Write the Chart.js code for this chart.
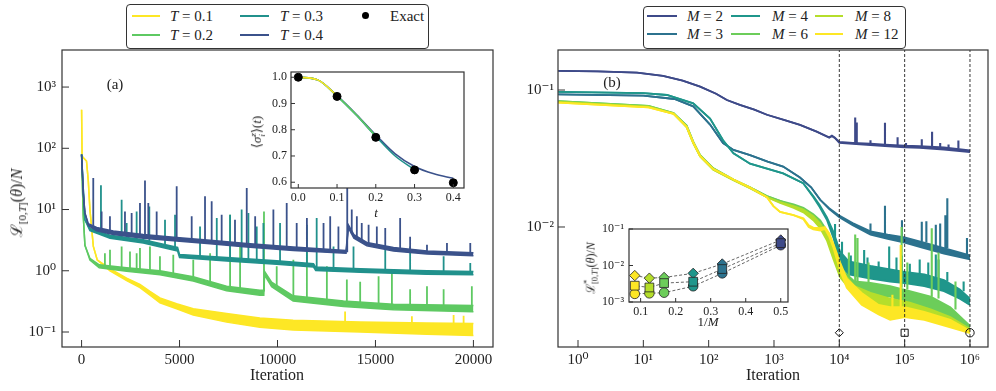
<!DOCTYPE html>
<html>
<head>
<meta charset="utf-8">
<script src="https://cdn.jsdelivr.net/npm/chart.js@4/dist/chart.umd.min.js"></script>
<style>
  body { margin: 0; background: #fff; width: 996px; height: 391px; position: relative; overflow: hidden;
         font-family: "Liberation Serif", "DejaVu Serif", serif; color: #222; }
  canvas { position: absolute; }
  .txt { position: absolute; white-space: nowrap; font-size: 15px; line-height: 1; }
  .rot { transform: translate(-50%, -50%) rotate(-90deg); }
  .ctr { transform: translate(-50%, -50%); }
  .legend { position: absolute; border: 1px solid #333; border-radius: 4px; background: #fff; }
  .sw { position: absolute; height: 2px; }
  .dot { position: absolute; width: 7px; height: 7px; border-radius: 50%; background: #000; }
  sub, sup { font-size: 70%; line-height: 0; }
  .ss { display: inline-flex; flex-direction: column; vertical-align: middle; line-height: 1; font-size: 70%; }
</style>
</head>
<body>
<canvas id="mainA" width="500" height="391" style="left:0;top:0"></canvas>
<canvas id="mainB" width="496" height="391" style="left:500px;top:0"></canvas>
<canvas id="insetA" width="230" height="160" style="left:240px;top:60px"></canvas>
<canvas id="insetB" width="215" height="120" style="left:580px;top:215px"></canvas>

<!-- legends -->
<div class="legend" style="left:126px;top:4px;width:301px;height:43px"></div>
<div class="sw" style="left:132px;top:15px;width:28px;background:#fde725"></div>
<div class="txt" style="left:170px;top:9px"><i>T</i> = 0.1</div>
<div class="sw" style="left:132px;top:34px;width:28px;background:#5ec962"></div>
<div class="txt" style="left:170px;top:28px"><i>T</i> = 0.2</div>
<div class="sw" style="left:240px;top:15px;width:29px;background:#21918c"></div>
<div class="txt" style="left:280px;top:9px"><i>T</i> = 0.3</div>
<div class="sw" style="left:240px;top:34px;width:29px;background:#3b528b"></div>
<div class="txt" style="left:280px;top:28px"><i>T</i> = 0.4</div>
<div class="dot" style="left:362px;top:12px"></div>
<div class="txt" style="left:390px;top:9px">Exact</div>

<div class="legend" style="left:643px;top:6px;width:261px;height:41px"></div>
<div class="sw" style="left:647px;top:15px;width:30px;background:#3e4a89"></div>
<div class="txt" style="left:687px;top:9px"><i>M</i> = 2</div>
<div class="sw" style="left:647px;top:33px;width:30px;background:#2c728e"></div>
<div class="txt" style="left:687px;top:27px"><i>M</i> = 3</div>
<div class="sw" style="left:731px;top:15px;width:29px;background:#1f968b"></div>
<div class="txt" style="left:772px;top:9px"><i>M</i> = 4</div>
<div class="sw" style="left:731px;top:33px;width:29px;background:#6ccd5a"></div>
<div class="txt" style="left:772px;top:27px"><i>M</i> = 6</div>
<div class="sw" style="left:815px;top:15px;width:28px;background:#b5de2b"></div>
<div class="txt" style="left:855px;top:9px"><i>M</i> = 8</div>
<div class="sw" style="left:815px;top:33px;width:28px;background:#fde725"></div>
<div class="txt" style="left:855px;top:27px"><i>M</i> = 12</div>

<!-- axis titles and panel tags -->
<div class="txt rot" style="left:17px;top:203px;font-size:16px">ℒ<sub>[0,<i>T</i>]</sub>(<i>θ</i>)/<i>N</i></div>
<div class="txt ctr" style="left:277px;top:375px;font-size:16px">Iteration</div>
<div class="txt ctr" style="left:773px;top:375px;font-size:16px">Iteration</div>
<div class="txt ctr" style="left:115px;top:84px">(a)</div>
<div class="txt ctr" style="left:612px;top:82px">(b)</div>
<div class="txt rot" style="left:258px;top:132px;font-size:13px">⟨<i>σ</i><span class="ss"><i>z</i><i>i</i></span>⟩(<i>t</i>)</div>
<div class="txt ctr" style="left:376px;top:212px;font-size:13px"><i>t</i></div>
<div class="txt rot" style="left:592px;top:268px;font-size:12px">ℒ<span class="ss"><span>*</span><span>[0,<i>T</i>]</span></span>(<i>θ</i>)/<i>N</i></div>
<div class="txt ctr" style="left:708px;top:321px;font-size:13px">1/<i>M</i></div>

<script>
// ---------- panel (a): loss vs iteration, rows are [iteration, band low, band high]
const lossT01 = [[0,427,427],[25,74,74],[250,62,62],[340,30,30],[425,10,10],[600,2.5,2.5],[800,1.5,1.5],
  [1450,1.0,1.08],[2300,0.69,0.76],[2980,0.53,0.6],[3490,0.4,0.46],[4000,0.3,0.36],[4850,0.24,0.29],
  [5700,0.19,0.24],[7400,0.145,0.2],[9100,0.12,0.17],[10800,0.108,0.155],[14220,0.1,0.145],
  [17630,0.092,0.14],[20000,0.088,0.138]];
const lossT02 = [[0,79,79],[85,8,8],[170,2.6,2.6],[425,1.5,1.6],[900,1.12,1.25],[2300,0.98,1.12],
  [4000,0.86,1.0],[5700,0.68,0.8],[7400,0.47,0.56],[9100,0.4,0.48],[9300,0.4,0.48],[9340,0.85,0.98],
  [9700,0.55,0.65],[10800,0.32,0.39],[13370,0.26,0.32],[15920,0.23,0.285],[20000,0.215,0.27]];
const lossT03 = [[0,79,79],[85,22,22],[170,6.8,6.8],[425,4.5,4.9],[1450,3.4,3.8],[3150,2.85,3.2],
  [4900,2.1,2.4],[5000,1.65,1.85],[7410,1.45,1.65],[9960,1.28,1.46],[11840,1.15,1.3],[11950,1.01,1.15],
  [14220,0.95,1.08],[17630,0.88,1.0],[20000,0.86,0.97]];
const lossT04 = [[0,79,79],[85,18.6,18.6],[170,8.8,8.8],[340,5.5,5.9],[770,4.5,5.1],[1620,3.9,4.45],
  [3150,3.4,3.9],[4850,3.05,3.5],[6560,2.75,3.15],[8430,2.45,2.8],[10810,2.15,2.45],[13500,1.93,2.15],
  [13620,5.0,5.6],[13900,3.4,3.9],[14560,2.55,2.9],[15920,2.1,2.4],[17630,1.88,2.1],[20000,1.76,1.97]];

// spikes: [iteration, base, peak]
const spikesT01 = [[13450,0.14,0.216],[16860,0.14,0.18],[18990,0.138,0.19],[19500,0.138,0.185]];
const spikesT02 = [[1190,1.1,1.94],[1450,1.08,2.2],[2044,1.02,2.5],[2470,1.0,2.07],[2810,0.98,1.94],
  [2980,0.97,2.35],[3490,0.93,2.5],[4000,0.92,1.72],[4680,0.85,1.83],[5700,0.78,1.51],[6560,0.65,1.94],
  [7580,0.52,8.2],[8090,0.48,2.5],[9310,0.46,9.3],[9960,0.5,1.18],[10810,0.38,1.51],[11500,0.35,2.5],
  [12520,0.32,1.18],[13540,0.3,0.72],[14220,0.29,0.66],[15160,0.28,0.81],[15840,0.27,0.92],
  [16770,0.26,0.5],[17630,0.26,0.56],[18480,0.25,0.5],[19920,0.25,0.56]];
const spikesT03 = [[988,4.4,25],[2044,3.3,14.5],[2300,3.2,6.0],[2810,3.0,9.3],[3457,2.8,11.2],
  [4258,2.5,6.8],[4770,2.3,8.2],[6046,1.6,5.3],[6900,1.55,7.3],[7580,1.5,8.2],[8170,1.45,10],
  [8515,1.42,8.8],[8940,1.4,5.3],[9280,1.38,6.0],[10130,1.35,6.0],[11500,1.25,5.65],[12000,1.1,7.3],
  [12860,1.05,2.5],[13880,1.0,2.5],[15500,0.98,2.2],[16770,0.95,2.5],[18480,0.93,1.72],[19840,0.92,1.34]];
const spikesT04 = [[596,5.2,32.7],[1022,4.6,9.3],[1448,4.3,7.8],[2214,3.8,9.3],[2555,3.7,8.8],
  [2980,3.5,12.8],[3236,3.5,29.9],[3406,3.5,12.8],[3832,3.3,9.3],[4854,3.2,23.9],[5620,3.0,7.8],
  [6300,2.9,16.4],[6640,2.85,13.6],[7150,2.7,8.2],[7830,2.6,6.8],[8430,2.6,22.4],[8860,2.55,7.8],
  [9790,2.4,10],[10470,2.3,12.8],[10980,2.25,6.0],[11500,2.2,7.3],[12350,2.1,6.0],[12690,2.05,7.8],
  [13110,2.0,5.3],[13560,2.0,26],[13790,4.0,10],[14050,3.3,7.8],[14300,2.9,6.0],[14650,2.7,5.65],
  [15070,2.5,5.3],[15500,2.35,5.0],[16260,2.2,7.3],[16770,2.1,3.6],[17630,2.0,2.66],[18650,1.95,2.83],
  [19840,1.9,2.83]];

// ---------- inset (a): <sigma^z>(t)
const tGrid = [0, 0.05, 0.1, 0.15, 0.2, 0.25, 0.3, 0.35, 0.4];
const szT04 = [1.0, 0.99, 0.93, 0.858, 0.78, 0.708, 0.66, 0.632, 0.615];
const szT03 = [1.0, 0.99, 0.928, 0.855, 0.775, 0.70, 0.648];
const szT02 = [1.0, 0.99, 0.928, 0.856, 0.776];
const szT01 = [1.0, 0.99, 0.93];
const exactT = [0, 0.1, 0.2, 0.3, 0.4];
const exactSz = [1.0, 0.927, 0.771, 0.647, 0.598];

// ---------- panel (b): loss vs iteration for several M
const lossM2 = [[0.5,0.138,0.138],[2,0.137,0.137],[8,0.134,0.134],[20,0.127,0.127],[40,0.117,0.117],
  [74,0.106,0.106],[130,0.094,0.094],[190,0.0845,0.0845],[300,0.078,0.078],[500,0.072,0.072],
  [780,0.066,0.066],[1500,0.06,0.06],[2500,0.0556,0.0556],[4500,0.0497,0.0497],[7000,0.0448,0.0452],
  [7700,0.046,0.0465],[8500,0.0447,0.045],[10000,0.0412,0.0418],[16000,0.0404,0.0412],[30000,0.0396,0.0406],
  [50000,0.039,0.04],[100000,0.0382,0.0393],[170000,0.0378,0.039],[400000,0.0368,0.0382],[1000000,0.0352,0.0362]];
const lossM3 = [[0.5,0.093,0.093],[10,0.091,0.091],[30,0.086,0.086],[58,0.076,0.076],[105,0.056,0.056],
  [166,0.041,0.041],[240,0.0365,0.0365],[430,0.0335,0.0335],[800,0.03,0.03],[1380,0.0276,0.0276],
  [2500,0.023,0.023],[3700,0.0195,0.0195],[5100,0.0158,0.0158],[7000,0.0135,0.0137],[10000,0.0118,0.0121],
  [16000,0.0103,0.0107],[30000,0.0088,0.0093],[55000,0.0082,0.0088],[100000,0.0077,0.0084],
  [180000,0.0071,0.0078],[400000,0.0064,0.007],[1000000,0.0058,0.0062]];
const lossM4 = [[0.5,0.097,0.097],[10,0.095,0.095],[23,0.092,0.092],[58,0.08,0.08],[105,0.062,0.062],
  [166,0.043,0.043],[240,0.0345,0.0345],[430,0.029,0.029],[1380,0.0246,0.0246],[2800,0.0209,0.0209],
  [4000,0.0165,0.0168],[5000,0.014,0.0145],[6440,0.0113,0.0118],[8150,0.0083,0.0092],[10300,0.0053,0.0066],
  [14000,0.0045,0.0056],[30000,0.0042,0.0052],[60000,0.004,0.0049],[100000,0.0039,0.0047],
  [200000,0.0037,0.0045],[400000,0.0034,0.0041],[700000,0.003,0.0035],[1000000,0.0027,0.003]];
const lossM6 = [[0.5,0.083,0.083],[12,0.0765,0.0765],[29,0.068,0.068],[46,0.055,0.055],[58,0.042,0.042],
  [74,0.0335,0.0335],[118,0.0268,0.0268],[240,0.0222,0.0222],[430,0.0195,0.0195],[780,0.0168,0.0168],
  [1240,0.0155,0.0155],[2000,0.0143,0.0146],[2820,0.0133,0.0138],[4000,0.0118,0.0124],[5100,0.0105,0.0112],
  [6440,0.0088,0.0094],[8150,0.0063,0.007],[10300,0.0044,0.005],[17000,0.0033,0.004],[30000,0.0032,0.0039],
  [60000,0.0031,0.0037],[120000,0.0028,0.0034],[250000,0.0025,0.0031],[500000,0.0021,0.0026],
  [1000000,0.00178,0.0019]];
const lossM8 = [[0.5,0.082,0.082],[12,0.0755,0.0755],[29,0.0672,0.0672],[46,0.0535,0.0535],[58,0.041,0.041],
  [74,0.0328,0.0328],[118,0.0262,0.0262],[240,0.022,0.022],[430,0.0192,0.0192],[780,0.0165,0.0165],
  [1240,0.015,0.0152],[2000,0.0138,0.0142],[2820,0.0128,0.0134],[4000,0.0112,0.012],[5100,0.0098,0.0106],
  [6440,0.008,0.0088],[8150,0.0058,0.0065],[10300,0.0043,0.0049],[17000,0.0032,0.0037],[30000,0.0028,0.0033],
  [60000,0.0025,0.003],[120000,0.0023,0.0028],[250000,0.0021,0.0025],[500000,0.0019,0.0022],
  [1000000,0.00172,0.0018]];
const lossM12 = [[0.5,0.081,0.081],[12,0.0748,0.0748],[29,0.067,0.067],[46,0.054,0.054],[58,0.0415,0.0415],
  [74,0.033,0.033],[118,0.0265,0.0265],[240,0.0222,0.0222],[430,0.0194,0.0194],[780,0.0165,0.0165],
  [980,0.0142,0.0142],[1240,0.0129,0.0129],[1990,0.0122,0.0122],[2820,0.0114,0.0116],[3400,0.01,0.0103],
  [4000,0.0096,0.0099],[5100,0.0094,0.0098],[6000,0.0097,0.01],[7000,0.0085,0.009],[8150,0.007,0.0075],
  [10300,0.0048,0.0055],[13000,0.0036,0.0042],[22000,0.0027,0.0033],[40000,0.0023,0.0027],
  [60000,0.0021,0.0026],[100000,0.0022,0.0026],[200000,0.0021,0.0024],[500000,0.00185,0.0021],
  [1000000,0.00168,0.00175]];

const spikesM2 = [[17500,0.041,0.063],[18500,0.041,0.058],[30000,0.04,0.043],[50000,0.0398,0.0577],
  [78000,0.039,0.0452],[105000,0.0388,0.041],[183000,0.0388,0.0437],[263000,0.0385,0.0496],
  [350000,0.038,0.041],[470000,0.0378,0.04],[665000,0.0372,0.0428]];
const spikesM3 = [[30000,0.0093,0.0106],[50000,0.0088,0.0143],[91000,0.0084,0.0112],[183000,0.0078,0.0109],
  [215000,0.0077,0.011],[300000,0.0072,0.0104],[350000,0.0071,0.0106],[420000,0.007,0.0122],
  [450000,0.007,0.0162],[900000,0.0063,0.0083]];
const spikesM4 = [[8600,0.0085,0.0105],[11000,0.0058,0.0078],[15000,0.0055,0.0062],[24000,0.0052,0.0068],
  [27000,0.0052,0.006],[40000,0.0051,0.0056],[58000,0.0049,0.0072],[75000,0.0048,0.006],[90000,0.0047,0.0062],
  [120000,0.0046,0.0054],[170000,0.0045,0.0058],[230000,0.0044,0.0055],[300000,0.0043,0.0063],
  [330000,0.0042,0.0058],[450000,0.004,0.0047],[800000,0.0034,0.004]];
const spikesM6 = [[14000,0.0038,0.0065],[17500,0.0039,0.0088],[19000,0.0039,0.0083],[28000,0.0039,0.0055],
  [90000,0.0036,0.01],[110000,0.0035,0.0055],[260000,0.0031,0.0098],[330000,0.003,0.0065],[600000,0.0025,0.004]];
const spikesM8 = [];
const spikesM12 = [[65000,0.0025,0.0032],[87000,0.0026,0.0074]];

const checkIters = [1e4, 1e5, 1e6];
const checkY = 0.00169;

// ---------- inset (b): loss at the check points vs 1/M
const invM = [0.5, 0.333, 0.25, 0.167, 0.125, 0.0833];
const lossAt1e4 = [0.05, 0.011, 0.0061, 0.0047, 0.0045, 0.0053];
const lossAt1e5 = [0.041, 0.008, 0.0036, 0.0033, 0.0025, 0.0028];
const lossAt1e6 = [0.036, 0.0061, 0.0027, 0.0018, 0.00173, 0.00167];

const colT = ['#fde725', '#5ec962', '#21918c', '#3b528b'];
const colM = ['#3e4a89', '#2c728e', '#1f968b', '#6ccd5a', '#b5de2b', '#fde725'];

Chart.defaults.font.family = '"Liberation Serif", "DejaVu Serif", serif';
Chart.defaults.color = '#222';
Chart.defaults.animation = false;

const SUP = { '-': '⁻', '0': '⁰', '1': '¹', '2': '²', '3': '³', '4': '⁴', '5': '⁵', '6': '⁶' };
const pow10 = v => '10' + String(Math.round(Math.log10(v))).split('').map(c => SUP[c]).join('');

const framePlugin = {
  id: 'frame',
  beforeDraw(chart, args, opts) {
    if (!opts.white) return;
    const a = chart.chartArea, c = chart.ctx;
    c.save(); c.fillStyle = '#fff';
    c.fillRect(a.left, a.top, a.right - a.left, a.bottom - a.top);
    c.restore();
  },
  afterDraw(chart, args, opts) {
    const a = chart.chartArea, c = chart.ctx, len = opts.tick || 7;
    const sx = chart.scales.x, sy = chart.scales.y;
    c.save();
    c.strokeStyle = '#333'; c.lineWidth = 1;
    c.beginPath();
    sx.ticks.forEach(t => {
      const p = sx.getPixelForValue(t.value);
      c.moveTo(p, a.bottom); c.lineTo(p, a.bottom - len);
    });
    sy.ticks.forEach(t => {
      const p = sy.getPixelForValue(t.value);
      c.moveTo(a.left, p); c.lineTo(a.left + len, p);
    });
    c.stroke();
    c.lineWidth = 1.2;
    c.strokeRect(a.left, a.top, a.right - a.left, a.bottom - a.top);
    c.restore();
  }
};

function axis(type, min, max, tickVals, size, fmt, fontSize, pad) {
  return {
    type, min, max,
    grid: { display: false, drawTicks: false },
    border: { display: false },
    afterBuildTicks: s => { s.ticks = tickVals.map(v => ({ value: v })); },
    afterFit: s => {
      if (s.isHorizontal()) s.height = size; else s.width = size;
      s.paddingLeft = s.paddingRight = s.paddingTop = s.paddingBottom = 0;
    },
    ticks: { autoSkip: false, maxRotation: 0, padding: pad, font: { size: fontSize }, callback: fmt }
  };
}

function bandSets(rows, spikes, color, order, width) {
  return [
    { data: rows.map(r => ({ x: r[0], y: r[1] })), borderColor: color, borderWidth: width, pointRadius: 0, fill: false, order },
    { data: rows.map(r => ({ x: r[0], y: r[2] })), borderColor: color, backgroundColor: color, borderWidth: width, pointRadius: 0, fill: '-1', order },
    { data: spikes.flatMap(s => [{ x: s[0], y: s[1] }, { x: s[0], y: s[2] }, { x: s[0], y: null }]),
      borderColor: color, borderWidth: width + 0.3, pointRadius: 0, fill: false, spanGaps: false, order }
  ];
}

// ---------- main (a)
new Chart(document.getElementById('mainA'), {
  type: 'line',
  data: { datasets: [
    ...bandSets(lossT04, spikesT04, colT[3], 1, 1.5),
    ...bandSets(lossT03, spikesT03, colT[2], 2, 1.5),
    ...bandSets(lossT02, spikesT02, colT[1], 3, 1.5),
    ...bandSets(lossT01, spikesT01, colT[0], 4, 1.5)
  ] },
  options: {
    responsive: false,
    layout: { padding: { left: 0, right: 7, top: 50, bottom: 0 } },
    plugins: { legend: { display: false }, tooltip: { enabled: false }, frame: { tick: 7 } },
    scales: {
      x: axis('linear', -1000, 21000, [0, 5000, 10000, 15000, 20000], 44, v => String(v), 15, 4),
      y: axis('logarithmic', 0.0569, 4027, [0.1, 1, 10, 100, 1000], 62, pow10, 15, 6)
    }
  },
  plugins: [framePlugin]
});

// ---------- main (b)
const yMinB = 0.00133, yMaxB = 0.196;
new Chart(document.getElementById('mainB'), {
  type: 'line',
  data: { datasets: [
    ...checkIters.map(it => ({ data: [{ x: it, y: yMinB }, { x: it, y: yMaxB }], borderColor: '#222',
      borderWidth: 0.9, borderDash: [3, 2], pointRadius: 0, order: 0 })),
    { data: checkIters.map(it => ({ x: it, y: checkY })), showLine: false, order: 0,
      pointStyle: ['rectRot', 'rect', 'circle'], pointRadius: [4, 5, 4.2],
      pointBackgroundColor: 'rgba(255,255,255,0)', pointBorderColor: '#111', pointBorderWidth: 1 },
    ...bandSets(lossM12, spikesM12, colM[5], 1, 1.8),
    ...bandSets(lossM8, spikesM8, colM[4], 2, 1.8),
    ...bandSets(lossM6, spikesM6, colM[3], 3, 1.8),
    ...bandSets(lossM4, spikesM4, colM[2], 4, 1.8),
    ...bandSets(lossM3, spikesM3, colM[1], 5, 1.8),
    ...bandSets(lossM2, spikesM2, colM[0], 6, 1.8)
  ] },
  options: {
    responsive: false,
    layout: { padding: { left: 0, right: 8, top: 50, bottom: 0 } },
    plugins: { legend: { display: false }, tooltip: { enabled: false }, frame: { tick: 7 } },
    scales: {
      x: axis('logarithmic', 0.494, 1.888e6, [1, 10, 100, 1000, 1e4, 1e5, 1e6], 44, pow10, 15, 4),
      y: axis('logarithmic', yMinB, yMaxB, [0.01, 0.1], 58, pow10, 15, 4)
    }
  },
  plugins: [framePlugin]
});

// ---------- inset (a)
const curve = (vals, color, order) => ({
  data: vals.map((v, i) => ({ x: tGrid[i], y: v })), borderColor: color, borderWidth: 1.6,
  pointRadius: 0, cubicInterpolationMode: 'monotone', order
});
new Chart(document.getElementById('insetA'), {
  type: 'line',
  data: { datasets: [
    { data: exactT.map((t, i) => ({ x: t, y: exactSz[i] })), showLine: false, pointRadius: 4,
      pointBackgroundColor: '#000', pointBorderColor: '#000', order: 0 },
    curve(szT01, colT[0], 1), curve(szT02, colT[1], 2), curve(szT03, colT[2], 3), curve(szT04, colT[3], 4)
  ] },
  options: {
    responsive: false,
    layout: { padding: { left: 0, right: 6, top: 12, bottom: 0 } },
    plugins: { legend: { display: false }, tooltip: { enabled: false }, frame: { tick: 4, white: true } },
    scales: {
      x: axis('linear', -0.0188, 0.4276, [0, 0.1, 0.2, 0.3, 0.4], 32, v => v.toFixed(1), 12, 3),
      y: axis('linear', 0.578, 1.02, [0.6, 0.7, 0.8, 0.9, 1.0], 51, v => v.toFixed(1), 12, 4)
    }
  },
  plugins: [framePlugin]
});

// ---------- inset (b)
const markerSet = (vals, style, radius, order) => ({
  data: vals.map((v, i) => ({ x: invM[i], y: v })), borderColor: '#555', borderWidth: 0.9, borderDash: [3, 2],
  pointStyle: style, pointRadius: radius, pointBackgroundColor: colM, pointBorderColor: '#222',
  pointBorderWidth: 0.8, order
});
new Chart(document.getElementById('insetB'), {
  type: 'line',
  data: { datasets: [
    markerSet(lossAt1e5, 'rect', 6.2, 1),
    markerSet(lossAt1e6, 'circle', 4.8, 2),
    markerSet(lossAt1e4, 'rectRot', 5.2, 3)
  ] },
  options: {
    responsive: false,
    layout: { padding: { left: 0, right: 6, top: 14, bottom: 0 } },
    plugins: { legend: { display: false }, tooltip: { enabled: false }, frame: { tick: 4, white: true } },
    scales: {
      x: axis('linear', 0.0668, 0.5207, [0.1, 0.2, 0.3, 0.4, 0.5], 33, v => v.toFixed(1), 12, 3),
      y: axis('logarithmic', 0.001, 0.1, [0.001, 0.01, 0.1], 49, pow10, 12, 5)
    }
  },
  plugins: [framePlugin]
});
</script>
</body>
</html>
